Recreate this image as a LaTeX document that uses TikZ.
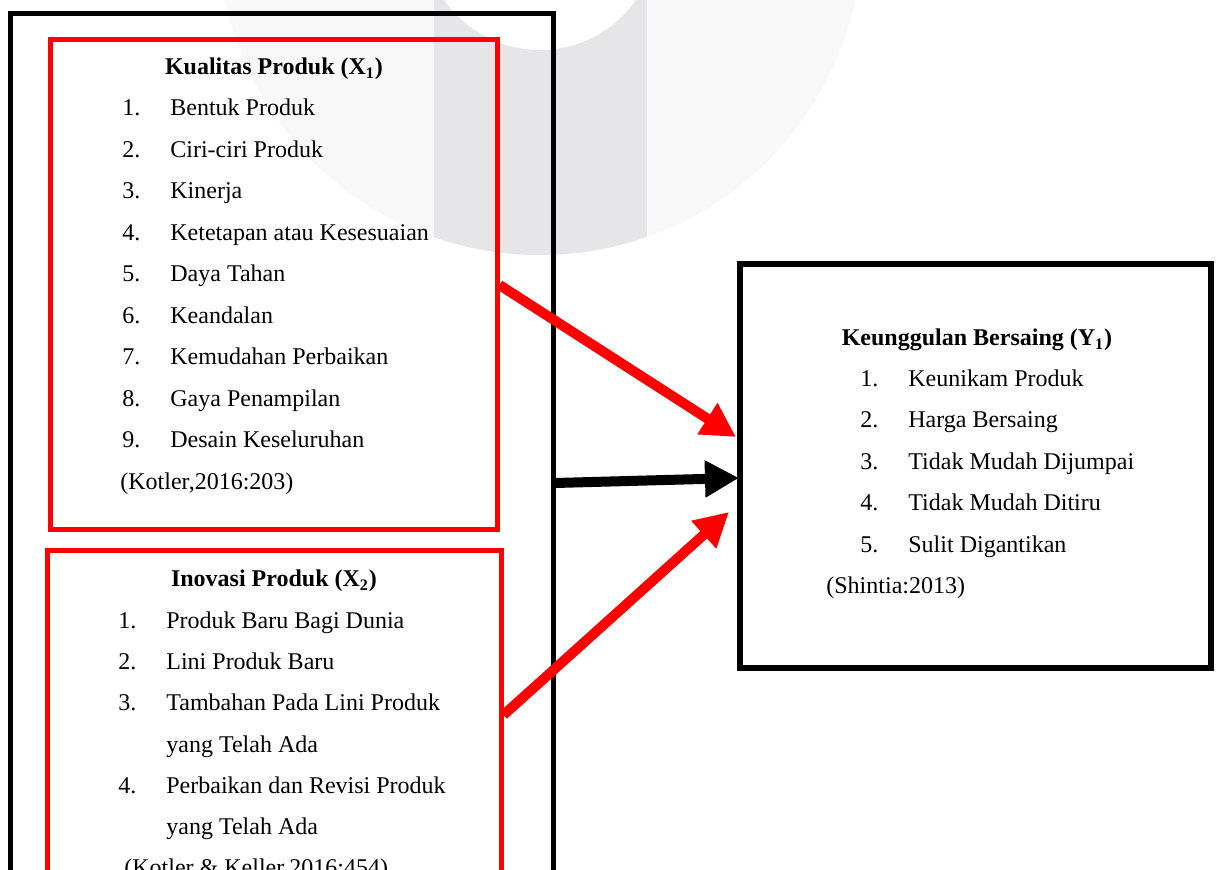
\documentclass[tikz,border=0pt]{standalone}
\usepackage{fontspec}
\setmainfont{Liberation Serif}
\usetikzlibrary{arrows.meta}
\definecolor{wmfaint}{HTML}{F8F8F8}
\definecolor{wmband}{HTML}{E6E6E8}
\newcommand{\itemno}[1]{\makebox[24pt][l]{#1}}
\tikzset{
    varbox/.style={draw, line width=2.5pt, fill=none},
    redbox/.style={varbox, draw=red},
    blackbox/.style={varbox, draw=black},
    boxtitle/.style={anchor=base, inner sep=0pt,
    	font=\fontsize{12}{14}\selectfont\bfseries},
    boxitem/.style={anchor=base west, inner sep=0pt,
    	font=\fontsize{12}{14}\selectfont}
}
\tikzset{
    linkarrow/.style={line width=5pt, -{Triangle[length=17pt,width=17.5pt]}}
}

\begin{document}
\begin{tikzpicture}[x=0.5pt, y=-0.5pt]
	\useasboundingbox (0,0) rectangle (1217,870);
	\clip (0,0) rectangle (1217,870);

	\fill[wmfaint] (540,-67) circle[radius=161pt];
	\begin{scope}
		\clip (540,-67) circle[radius=161pt];
		\fill[wmband] (434,-10) rectangle (647,300);
	\end{scope}
	\fill[white] (540,-67) circle[radius=58.5pt];

	\node (outer) [blackbox, minimum width=271.5pt, minimum height=469pt] at (281.5,483) {};
	\node (kual) [redbox, minimum width=223.5pt, minimum height=245pt] at (273.5,285) {};
	\node (inov) [redbox, minimum width=227pt, minimum height=164pt] at (274,715) {};
	\node (keung) [blackbox, line width=3pt, minimum width=235.5pt, minimum height=202pt] at (975.5,466) {};

	\node (k0) [boxtitle] at (274,75) {Kualitas Produk (X\textsubscript{1})};
	\node (k1) [boxitem] at (122,116) {\itemno{1.}Bentuk Produk};
	\node (k2) [boxitem] at (122,157.5) {\itemno{2.}Ciri-ciri Produk};
	\node (k3) [boxitem] at (122,199) {\itemno{3.}Kinerja};
	\node (k4) [boxitem] at (122,240.5) {\itemno{4.}Ketetapan atau Kesesuaian};
	\node (k5) [boxitem] at (122,282) {\itemno{5.}Daya Tahan};
	\node (k6) [boxitem] at (122,323.5) {\itemno{6.}Keandalan};
	\node (k7) [boxitem] at (122,365) {\itemno{7.}Kemudahan Perbaikan};
	\node (k8) [boxitem] at (122,406.5) {\itemno{8.}Gaya Penampilan};
	\node (k9) [boxitem] at (122,448) {\itemno{9.}Desain Keseluruhan};
	\node (kc) [boxitem] at (120,489.5) {(Kotler,2016:203)};

	\node (i0) [boxtitle] at (274,587) {Inovasi Produk (X\textsubscript{2})};
	\node (i1) [boxitem] at (118,629) {\itemno{1.}Produk Baru Bagi Dunia};
	\node (i2) [boxitem] at (118,670) {\itemno{2.}Lini Produk Baru};
	\node (i3) [boxitem] at (118,711) {\itemno{3.}Tambahan Pada Lini Produk};
	\node (i3b) [boxitem] at (166,753) {yang Telah Ada};
	\node (i4) [boxitem] at (118,794) {\itemno{4.}Perbaikan dan Revisi Produk};
	\node (i4b) [boxitem] at (166,835) {yang Telah Ada};
	\node (ic) [boxitem] at (124,876) {(Kotler \& Keller,2016:454)};

	\node (y0) [boxtitle] at (977,346) {Keunggulan Bersaing (Y\textsubscript{1})};
	\node (y1) [boxitem] at (860,387) {\itemno{1.}Keunikam Produk};
	\node (y2) [boxitem] at (860,428) {\itemno{2.}Harga Bersaing};
	\node (y3) [boxitem] at (860,470) {\itemno{3.}Tidak Mudah Dijumpai};
	\node (y4) [boxitem] at (860,511) {\itemno{4.}Tidak Mudah Ditiru};
	\node (y5) [boxitem] at (860,553) {\itemno{5.}Sulit Digantikan};
	\node (yc) [boxitem] at (826,594) {(Shintia:2013)};

	\coordinate (tip1) at (736,437);
	\coordinate (tip2) at (739,478);
	\coordinate (tip3) at (729,512);

	\draw [linkarrow, red] (kual.east) -- (tip1);
	\draw [linkarrow, black] (outer.east) -- (tip2);
	\draw [linkarrow, red] (inov.east) -- (tip3);
\end{tikzpicture}
\end{document}
